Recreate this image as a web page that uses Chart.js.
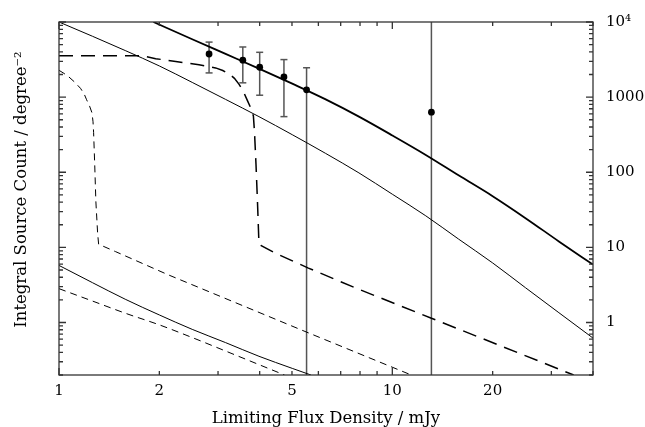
<!DOCTYPE html>
<html><head><meta charset="utf-8">
<script src="https://cdn.jsdelivr.net/npm/chart.js@4/dist/chart.umd.min.js"></script>
<style>html,body{margin:0;padding:0;background:#fff}</style>
</head><body>
<canvas id="c" width="645" height="427"></canvas>
<script>
// ---- tick labels ----
const xTickValues = [1, 2, 5, 10, 20];
const xTickLabels = ['1', '2', '5', '10', '20'];
const yTickValues = [1, 10, 100, 1000, 10000];
const yTickLabels = ['1', '10', '100', '1000', '10\u2074'];
const xTitle = 'Limiting Flux Density / mJy';
const yTitle = 'Integral Source Count / degree\u207B\u00B2';

// ---- measured source counts (mJy, per sq. degree) ----
const obsFlux  = [2.82, 3.56, 4.0, 4.73, 5.53, 13.1];
const obsCount = [3750, 3100, 2500, 1860, 1250, 630];
const obsLow   = [2100, 1550, 1060, 550, 0.1, 0.1];
const obsHigh  = [5400, 4650, 3950, 3160, 2460, 20000];

// ---- model curves ----
const thickX = [1.92, 2.51, 3.16, 3.98, 5.01, 6.31, 7.94, 10, 12.6, 15.8, 20, 25.1, 31.6, 40];
const thickY = [10000, 5890, 3760, 2400, 1510, 933, 550, 309, 170, 91, 48, 24.5, 12, 5.9];

const thinX = [1, 1.26, 1.58, 2, 2.51, 3.16, 3.98, 5.01, 6.31, 7.94, 10, 12.6, 15.8, 20, 25.1, 31.6, 40];
const thinY = [10000, 6460, 4170, 2600, 1570, 933, 550, 316, 178, 98, 51, 26.3, 12.9, 6.2, 2.9, 1.35, 0.62];

const longDashX = [1, 1.5, 1.78, 1.95, 2.24, 2.63, 2.95, 3.1, 3.24, 3.36, 3.47, 3.58, 3.67, 3.76, 3.83, 3.86, 3.90, 3.94, 3.98, 4.03, 4.45, 5.6, 7.7, 13.1, 35];
const longDashY = [3560, 3560, 3540, 3250, 2980, 2690, 2450, 2260, 2040, 1780, 1480, 1170, 912, 720, 562, 339, 126, 40, 11.2, 10.6, 8.4, 5.3, 2.92, 1.14, 0.2];

const shortDashX = [1, 1.035, 1.07, 1.115, 1.16, 1.19, 1.21, 1.235, 1.256, 1.265, 1.27, 1.28, 1.29, 1.306, 1.315, 1.476, 2.13, 5.47, 11.4];
const shortDashY = [2275, 2070, 1860, 1580, 1310, 1100, 923, 760, 618, 470, 339, 125, 41, 15.2, 11, 8.8, 4.3, 0.76, 0.2];

const lowSolidX = [1, 1.26, 1.58, 2, 2.51, 3.16, 3.98, 5.01, 5.7];
const lowSolidY = [5.75, 3.39, 2.04, 1.26, 0.81, 0.54, 0.355, 0.245, 0.2];

const lowDashX = [1, 1.26, 1.58, 2, 2.51, 3.16, 3.98, 4.75];
const lowDashY = [2.82, 1.93, 1.33, 0.93, 0.63, 0.417, 0.275, 0.2];

const pts = (xs, ys) => xs.map((v, i) => ({x: v, y: ys[i]}));
const FONT = 'DejaVu Serif';

const lineDs = (xs, ys, w, dash, smooth) => ({
  data: pts(xs, ys), showLine: true, pointRadius: 0, borderColor: '#000',
  borderWidth: w, borderDash: dash, fill: false,
  cubicInterpolationMode: smooth ? 'monotone' : 'default', tension: 0
});

const decor = {
  id: 'decor',
  beforeDatasetsDraw(chart) {
    const {ctx, chartArea: a, scales: {x, y}} = chart;
    ctx.save();
    ctx.beginPath(); ctx.rect(a.left, a.top, a.right - a.left, a.bottom - a.top); ctx.clip();
    ctx.strokeStyle = '#555'; ctx.lineWidth = 1.5;
    obsFlux.forEach((f, i) => {
      const px = x.getPixelForValue(f);
      ctx.beginPath();
      ctx.moveTo(px, y.getPixelForValue(obsLow[i]));
      ctx.lineTo(px, y.getPixelForValue(obsHigh[i]));
      ctx.stroke();
      [obsLow[i], obsHigh[i]].forEach(v => {
        if (v > y.min && v < y.max) {
          const py = y.getPixelForValue(v);
          ctx.beginPath(); ctx.moveTo(px - 3.5, py); ctx.lineTo(px + 3.5, py); ctx.stroke();
        }
      });
    });
    ctx.restore();
  },
  afterDraw(chart) {
    const {ctx, chartArea: a, scales: {x, y}} = chart;
    ctx.save();
    ctx.strokeStyle = '#333'; ctx.lineWidth = 1.3;
    [1, 10].forEach(d => {
      for (let m = 1; m <= 9; m++) {
        const v = m * d; if (v < x.min || v > x.max) continue;
        const px = x.getPixelForValue(v);
        const L = m === 1 ? 7 : 4;
        ctx.beginPath();
        ctx.moveTo(px, a.bottom); ctx.lineTo(px, a.bottom - L);
        ctx.moveTo(px, a.top); ctx.lineTo(px, a.top + L);
        ctx.stroke();
      }
    });
    [0.1, 1, 10, 100, 1000, 10000].forEach(d => {
      for (let m = 1; m <= 9; m++) {
        const v = m * d; if (v < y.min - 1e-9 || v > y.max + 1e-9) continue;
        const py = y.getPixelForValue(v);
        const L = m === 1 ? 7 : 4;
        ctx.beginPath();
        ctx.moveTo(a.left, py); ctx.lineTo(a.left + L, py);
        ctx.moveTo(a.right, py); ctx.lineTo(a.right - L, py);
        ctx.stroke();
      }
    });
    ctx.strokeRect(a.left, a.top, a.right - a.left, a.bottom - a.top);
    // y axis title (left side)
    ctx.fillStyle = '#000';
    ctx.font = '16.5px "' + FONT + '"';
    ctx.textAlign = 'center'; ctx.textBaseline = 'middle';
    ctx.translate(a.left - 37, (a.top + a.bottom) / 2 - 9);
    ctx.rotate(-Math.PI / 2);
    ctx.fillText(yTitle, 0, 0);
    ctx.restore();
  }
};

new Chart(document.getElementById('c'), {
  type: 'scatter',
  data: {
    datasets: [
      lineDs(thickX, thickY, 1.8, [], true),
      lineDs(thinX, thinY, 1, [], true),
      lineDs(longDashX, longDashY, 1.5, [14, 8], false),
      lineDs(shortDashX, shortDashY, 1, [7, 5], false),
      lineDs(lowSolidX, lowSolidY, 1, [], true),
      lineDs(lowDashX, lowDashY, 1, [7, 5], true),
      { data: pts(obsFlux, obsCount), showLine: false, pointRadius: 3.4,
        pointBackgroundColor: '#000', pointBorderColor: '#000', pointBorderWidth: 0 }
    ]
  },
  options: {
    responsive: false, animation: false, devicePixelRatio: 1,
    layout: { padding: { top: 14, left: 59, right: 0, bottom: 0 } },
    plugins: { legend: { display: false }, tooltip: { enabled: false } },
    scales: {
      x: {
        type: 'logarithmic', min: 1, max: 40, position: 'bottom',
        grid: { display: false, drawTicks: false }, border: { display: false },
        afterBuildTicks: s => { s.ticks = xTickValues.map(v => ({ value: v })); },
        ticks: { callback: (v, i) => xTickLabels[i], color: '#000', padding: 7,
                 autoSkip: false, maxRotation: 0, font: { family: FONT, size: 15 } },
        title: { display: true, text: xTitle, color: '#000',
                 font: { family: FONT, size: 16.5 }, padding: { top: 0, bottom: -2 } },
        afterFit: s => { s.height = 52; }
      },
      y: {
        type: 'logarithmic', min: 0.2, max: 10000, position: 'right',
        grid: { display: false, drawTicks: false }, border: { display: false },
        afterBuildTicks: s => { s.ticks = yTickValues.map(v => ({ value: v })); },
        ticks: { callback: (v, i) => yTickLabels[i], color: '#000', padding: 13,
                 autoSkip: false, font: { family: FONT, size: 15 } },
        afterFit: s => { s.width = 52; }
      }
    }
  },
  plugins: [decor]
});
</script>
</body></html>
